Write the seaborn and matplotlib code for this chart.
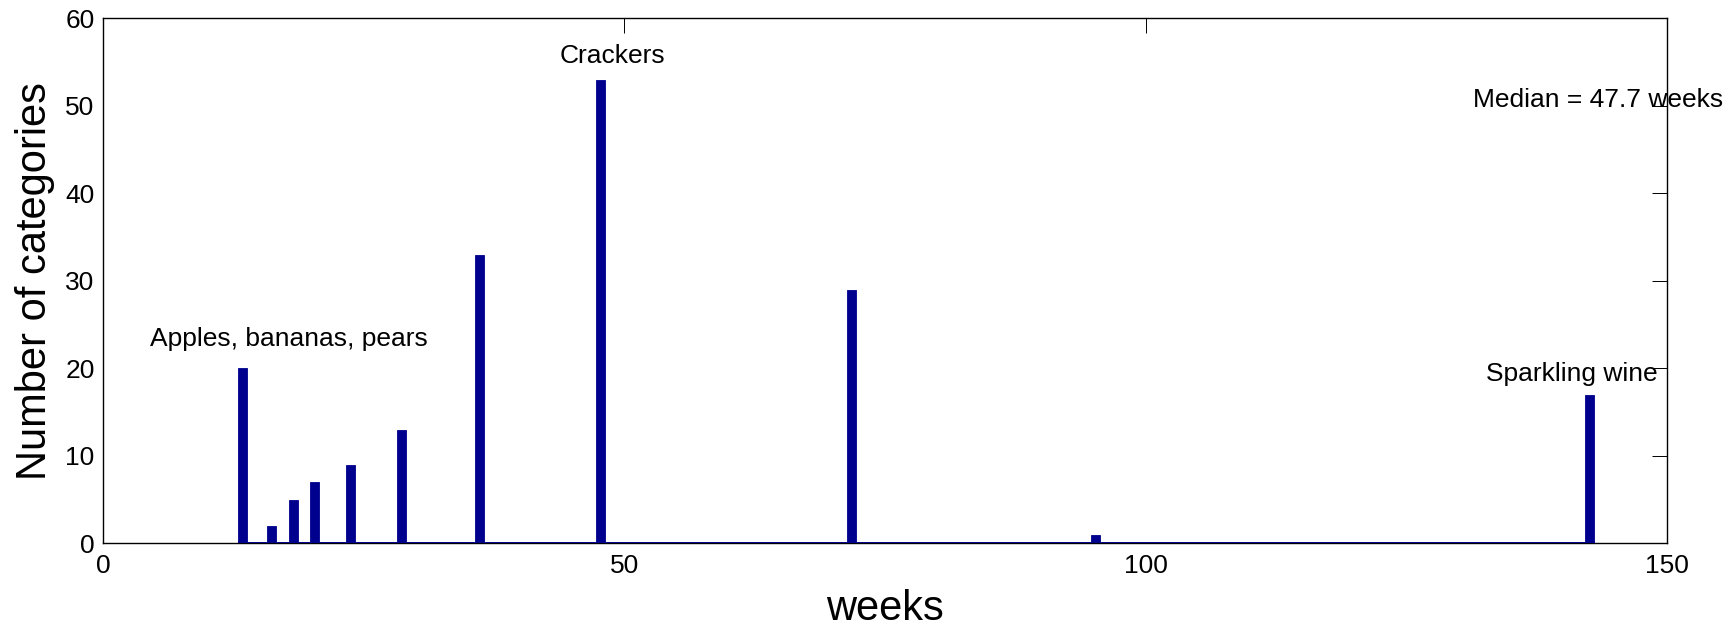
import matplotlib
matplotlib.use("Agg")
import matplotlib.pyplot as plt
import seaborn as sns
import pandas as pd

# Shelf life (weeks) and number of product categories at each value
weeks = [13.4, 16.2, 18.3, 20.3, 23.7, 28.6, 36.1, 47.7, 71.8, 95.2, 142.6]
counts = [20, 2, 5, 7, 9, 13, 33, 53, 29, 1, 17]

# Annotations: (text, x, baseline y)
labels = ["Apples, bananas, pears", "Crackers", "Sparkling wine"]
label_x = [4.5, 43.8, 132.6]
label_y = [22.5, 54.9, 18.5]
median_weeks = 47.7

x_ticks = [0, 50, 100, 150]
y_ticks = [0, 10, 20, 30, 40, 50, 60]

bar_color = "#00008F"

sns.set_style("white")
plt.rcParams["font.family"] = ["Liberation Sans", "DejaVu Sans"]
plt.rcParams["text.color"] = "black"
plt.rcParams["axes.labelcolor"] = "black"

fig = plt.figure(figsize=(17.28, 6.27), dpi=100)
ax = fig.add_axes([0.0596, 0.1335, 0.9051, 0.8370])

df = pd.DataFrame({"weeks": weeks, "count": counts})
min_gap = min(b - a for a, b in zip(weeks[:-1], weeks[1:]))
sns.barplot(data=df, x="weeks", y="count", native_scale=True,
            width=0.85 / min_gap, color=bar_color, saturation=1,
            errorbar=None, linewidth=0.6, edgecolor=bar_color, ax=ax)

# baseline running under the bars
ax.hlines(0, min(weeks) - 0.45, max(weeks) + 0.45, color=bar_color,
          linewidth=1.4, zorder=3)

ax.set_xlim(0, 150)
ax.set_ylim(0, 60)
ax.set_xticks(x_ticks)
ax.set_yticks(y_ticks)
ax.set_xticklabels([str(t) for t in x_ticks])
ax.set_yticklabels([str(t) for t in y_ticks])

for s in ax.spines.values():
    s.set_visible(True)
    s.set_color("black")
    s.set_linewidth(1.0)

ax.tick_params(axis="both", direction="in", length=11, width=0.7,
               colors="black", labelsize=19, top=True, right=True)
ax.tick_params(axis="x", pad=8)
ax.tick_params(axis="y", pad=6)

ax.set_xlabel("weeks", fontsize=30, color="black")
ax.set_ylabel("Number of categories", fontsize=30, color="black")
ax.xaxis.set_label_coords(0.5, -0.088)
ax.yaxis.set_label_coords(-0.031, 0.5)

for txt, x, y in zip(labels, label_x, label_y):
    ax.text(x, y, txt, fontsize=19, ha="left", va="baseline",
            color="black", clip_on=False)

ax.text(131.4, 49.9, f"Median = {median_weeks} weeks", fontsize=19,
        ha="left", va="baseline", color="black", clip_on=False)

fig.savefig("out.png", dpi=100, facecolor="white")
